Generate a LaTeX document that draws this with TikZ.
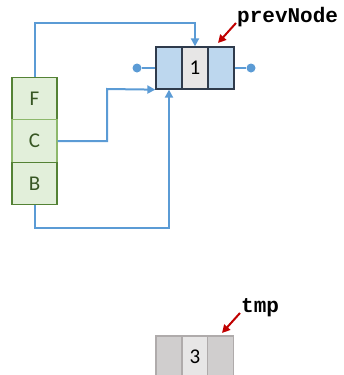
\documentclass[tikz,border=0pt]{standalone}
\usepackage{fontspec}
\setmainfont{Carlito}
\newfontfamily\codefont{Liberation Mono}
\usetikzlibrary{arrows.meta}
\definecolor{nodeblue}{HTML}{BDD7EE}
\definecolor{midgray}{HTML}{E7E6E6}
\definecolor{navyb}{HTML}{2F3B4C}
\definecolor{linkblue}{HTML}{5B9BD5}
\definecolor{stackfill}{HTML}{E2EFDA}
\definecolor{stackdark}{HTML}{548235}
\definecolor{stacklight}{HTML}{8DB86B}
\definecolor{stacktext}{HTML}{375623}
\definecolor{tmpfill}{HTML}{D0CECE}
\definecolor{tmpborder}{HTML}{AFABAB}
\definecolor{redarr}{HTML}{C00000}
\tikzset{
  cellbox/.style={draw=navyb, line width=1.3pt, minimum width=26pt, minimum height=42pt, inner sep=0pt, font=\fontsize{21}{21}\selectfont},
  stackbox/.style={draw=stackdark, fill=stackfill, line width=1.3pt, minimum width=45pt, minimum height=42.5pt, inner sep=0pt, text=stacktext, font=\fontsize{21}{21}\selectfont},
  tmpcell/.style={draw=tmpborder, line width=1.3pt, minimum width=26pt, minimum height=42pt, inner sep=0pt, font=\fontsize{21}{21}\selectfont},
  link/.style={draw=linkblue, line width=2pt, -{Triangle[length=8pt,width=8pt]}},
  plainlink/.style={draw=linkblue, line width=2pt},
  dotend/.style={circle, fill=linkblue, minimum size=9pt, inner sep=0pt},
  codelbl/.style={font=\fontsize{21}{21}\codefont\bfseries\selectfont, inner sep=0pt, anchor=west},
  pointer/.style={draw=redarr, line width=2pt, -{Triangle[length=8pt,width=8pt]}}
}
\begin{document}
\begin{tikzpicture}[x=1pt,y=-1pt]
\useasboundingbox (0,0) rectangle (343,375);
% node 1
\node[cellbox, fill=nodeblue] (n1l) at (169,68) {};
\node[cellbox, fill=midgray] (n1m) at (195,68) {1};
\node[cellbox, fill=nodeblue] (n1r) at (221,68) {};
\node[dotend] (dl) at (137,68) {};
\node[dotend] (dr) at (251,68) {};
\draw[plainlink] (dl) -- (n1l.west);
\draw[plainlink] (n1r.east) -- (dr);
% stack
\node[stackbox] (sF) at (34.5,98.5) {F};
\node[stackbox, draw=stacklight] (sC) at (34.5,141) {C};
\node[stackbox] (sB) at (34.5,183.5) {B};
% links
\coordinate (fTop) at (34.5,23);
\coordinate (cBend) at (107,89);
\coordinate (bBot) at (34.5,228);
\draw[link] (sF.north) -- (fTop) -| (n1m.north);
\draw[link] (sC.east) -| (cBend) -- (n1l.south west);
\draw[link] (sB.south) -- (bBot) -| (n1l.south);
% prevNode label
\node[codelbl] (pn) at (237,17) {prevNode};
\coordinate (pnFrom) at (236,23);
\coordinate (pnTo) at (218,43);
\draw[pointer] (pnFrom) -- (pnTo);
% tmp node
\node[tmpcell, fill=tmpfill] (t3l) at (169,357) {};
\node[tmpcell, fill=midgray] (t3m) at (195,357) {3};
\node[tmpcell, fill=tmpfill] (t3r) at (220.5,357) {};
\node[codelbl] (tl) at (241,308) {tmp};
\coordinate (tFrom) at (240,313);
\coordinate (tTo) at (222,333);
\draw[pointer] (tFrom) -- (tTo);
\end{tikzpicture}
\end{document}
